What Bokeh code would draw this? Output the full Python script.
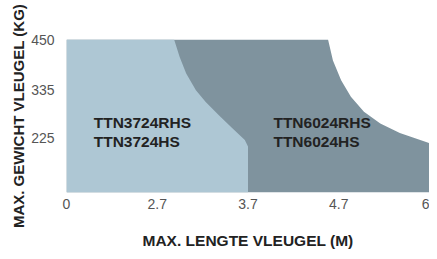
import numpy as np
from bokeh.plotting import figure
from bokeh.models import Range1d, FixedTicker
from bokeh.core.properties import value
from bokeh.embed import file_html
from bokeh.resources import INLINE

# ---- data ----
x_tick_values = [0, 2.7, 3.7, 4.7, 6]          # length (m), evenly spaced on the axis
y_tick_values = [225, 335, 450]                # weight (kg)
y_floor = 100

# boundary of TTN3724 range (length m, weight kg)
light_len = [2.886, 2.947, 3.019, 3.126, 3.234, 3.379, 3.522, 3.665, 3.7]
light_kg = [450, 410, 372, 334, 307, 277, 248, 220, 205]
# boundary of TTN6024 range
dark_len = [4.582, 4.636, 4.734, 4.874, 5.061, 5.295, 5.575, 6.0]
dark_kg = [450, 402, 357, 319, 285, 258, 236, 213]

labels_text = ["TTN3724RHS", "TTN3724HS", "TTN6024RHS", "TTN6024HS"]
labels_len = [0.81, 0.81, 3.98, 3.98]
labels_kg = [260, 217.5, 260, 217.5]

LIGHT = "#aec7d4"
DARK = "#7f939e"
FONT = "Liberation Sans"

tick_pos = list(range(len(x_tick_values)))


def xpos(m):
    return list(np.interp(m, x_tick_values, tick_pos))


p = figure(width=429, height=251, output_backend="svg", toolbar_location=None,
           x_range=Range1d(0, tick_pos[-1]), y_range=Range1d(y_floor, y_tick_values[-1]),
           min_border_left=66, min_border_right=0, min_border_top=39, min_border_bottom=58)

# dark region
dxs = xpos([0, 0] + dark_len + [x_tick_values[-1]])
dys = [y_floor, y_tick_values[-1]] + dark_kg + [y_floor]
p.patch(dxs, dys, fill_color=DARK, line_color=None)

# light region
lxs = xpos([0, 0] + light_len + [light_len[-1]])
lys = [y_floor, y_tick_values[-1]] + light_kg + [y_floor]
p.patch(lxs, lys, fill_color=LIGHT, line_color=None)

p.text(x=xpos(labels_len), y=labels_kg, text=labels_text,
       text_font=value(FONT), text_font_style="bold", text_font_size="15.5px",
       text_color="#222222", text_align="left", text_baseline="alphabetic")

p.xaxis.ticker = FixedTicker(ticks=tick_pos)
p.xaxis.major_label_overrides = {i: f"{v:g}" for i, v in zip(tick_pos, x_tick_values)}
p.yaxis.ticker = FixedTicker(ticks=y_tick_values)

for ax in (p.xaxis[0], p.yaxis[0]):
    ax.axis_line_color = None
    ax.major_tick_line_color = None
    ax.minor_tick_line_color = None
    ax.major_label_text_font = FONT
    ax.major_label_text_font_size = "14px"
    ax.major_label_text_color = "#555555"
    ax.axis_label_text_font = FONT
    ax.axis_label_text_font_style = "bold"
    ax.axis_label_text_color = "#222222"

p.xaxis.axis_label = "MAX. LENGTE VLEUGEL (M)"
p.yaxis.axis_label = "MAX. GEWICHT VLEUGEL (KG)"
p.xaxis.axis_label_text_font_size = "15.5px"
p.yaxis.axis_label_text_font_size = "15px"
p.xaxis.major_label_standoff = 0
p.yaxis.major_label_standoff = 6
p.xaxis.axis_label_standoff = 20
p.yaxis.axis_label_standoff = 1

p.xgrid.grid_line_color = None
p.ygrid.grid_line_color = None
p.outline_line_color = None
p.background_fill_color = "white"
p.border_fill_color = "white"

open("out.html", "w").write(file_html(p, INLINE))
